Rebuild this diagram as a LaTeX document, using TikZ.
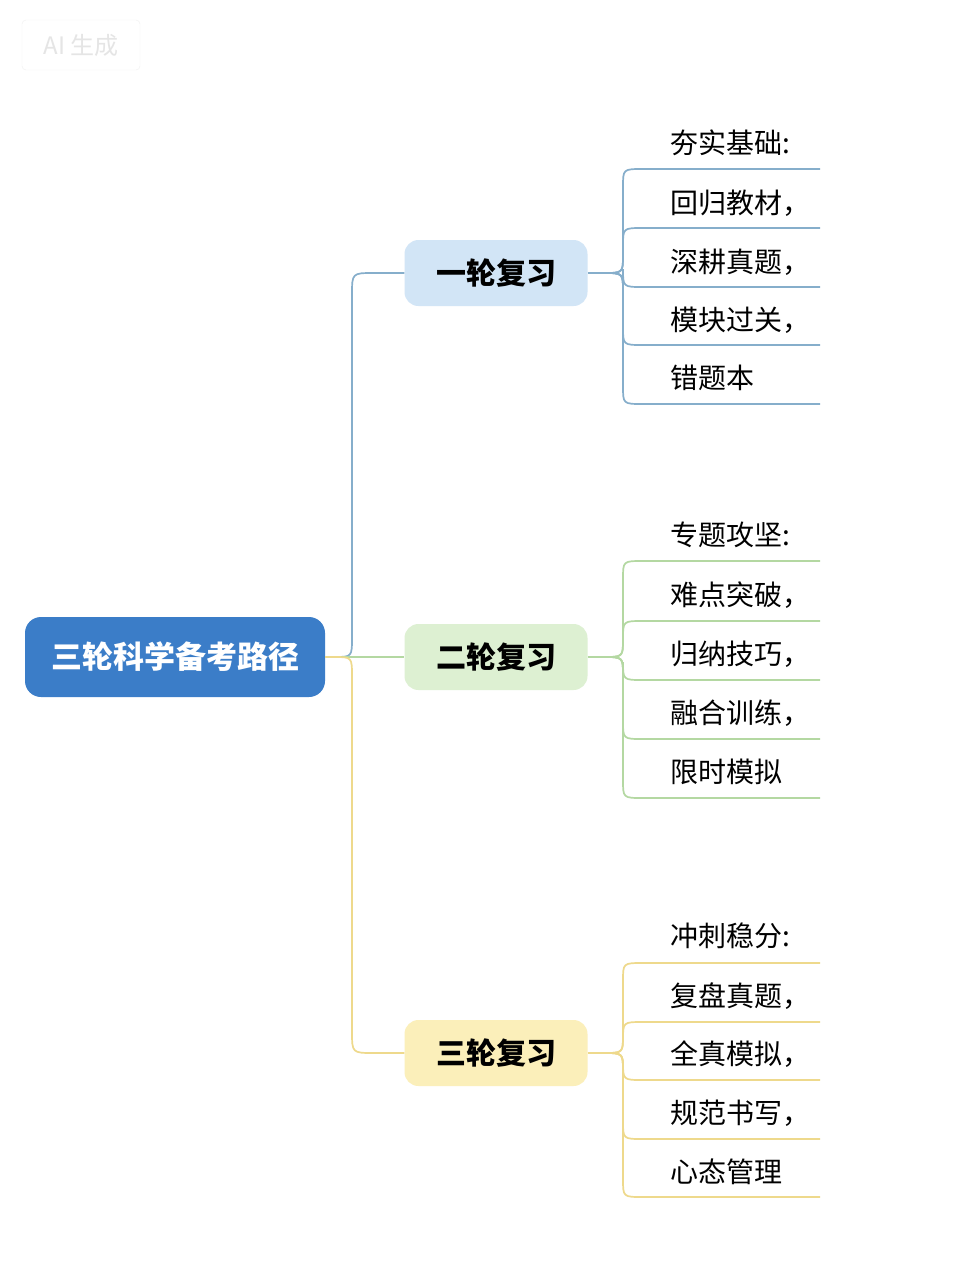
\documentclass[tikz,border=0pt]{standalone}
\usepackage{fontspec}
\setmainfont{Noto Sans CJK SC}
\definecolor{rootc}{HTML}{3B7DC8}
\definecolor{b1}{HTML}{D2E5F6}\definecolor{l1}{HTML}{86AECB}
\definecolor{b2}{HTML}{DDF0D2}\definecolor{l2}{HTML}{B4D8A2}
\definecolor{b3}{HTML}{FBEFBA}\definecolor{l3}{HTML}{EED98C}
\begin{document}
\begin{tikzpicture}[x=1pt,y=-1pt,
  lvl/.style={rounded corners=14pt,minimum width=183pt,minimum height=66pt,font=\fontsize{30}{31}\selectfont\bfseries,inner sep=0pt},
  leaf/.style={anchor=west,font=\fontsize{28}{29}\selectfont,inner sep=0pt},
  conn/.style={line width=1.7pt}]
\useasboundingbox (0,0) rectangle (961,1280);
\fill[white] (0,0) rectangle (961,1280);
\node[draw=black!6,fill=white,rounded corners=4pt,minimum width=118pt,minimum height=50pt,text=black!10,font=\fontsize{24}{24}\selectfont] (wm) at (81,45) {AI 生成};
\node[fill=rootc,text=white,rounded corners=16pt,minimum width=300pt,minimum height=80pt,font=\fontsize{31}{32}\selectfont\bfseries,inner sep=0pt] (root) at (175,657) {三轮科学备考路径};
\node[lvl,fill=b1] (r1) at (496,273) {一轮复习};
\node[lvl,fill=b2] (r2) at (496,657) {二轮复习};
\node[lvl,fill=b3] (r3) at (496,1053) {三轮复习};
\draw[conn,l1] (root.east) -- (334,657) .. controls (352,657) .. (352,637) -- (352,295) .. controls (352,273) .. (374,273) -- (r1.west);
\draw[conn,l2] (root.east) -- (r2.west);
\draw[conn,l3] (root.east) -- (334,657) .. controls (352,657) .. (352,677) -- (352,1031) .. controls (352,1053) .. (374,1053) -- (r3.west);
\newcommand\mybranch[8]{%
  \coordinate (#1h) at (603,#3);
  \draw[conn,#2] (#1.east) -- (#1h);
  \foreach \yy in {#4,#5,#6,#7,#8}{
    \pgfmathsetmacro\dir{\yy<#3 ? 1 : -1}
    \draw[conn,#2] (#1h) .. controls (623,#3) .. (623,#3-\dir*18) -- (623,\yy+\dir*18) .. controls (623,\yy) .. (643,\yy) -- (820,\yy);
  }}
\mybranch{r1}{l1}{273}{169}{228}{287}{345}{404}
\mybranch{r2}{l2}{657}{561}{621}{680}{739}{798}
\mybranch{r3}{l3}{1053}{963}{1022}{1080}{1139}{1197}
\node[leaf] (a0) at (670,143) {夯实基础:};
\node[leaf] (a1) at (670,203) {回归教材，};
\node[leaf] (a2) at (670,262) {深耕真题，};
\node[leaf] (a3) at (670,320) {模块过关，};
\node[leaf] (a4) at (670,378) {错题本};
\node[leaf] (b0) at (670,535) {专题攻坚:};
\node[leaf] (b1n) at (670,595) {难点突破，};
\node[leaf] (b2n) at (670,654) {归纳技巧，};
\node[leaf] (b3n) at (670,713) {融合训练，};
\node[leaf] (b4n) at (670,772) {限时模拟};
\node[leaf] (c0) at (670,936) {冲刺稳分:};
\node[leaf] (c1) at (670,996) {复盘真题，};
\node[leaf] (c2) at (670,1054) {全真模拟，};
\node[leaf] (c3) at (670,1113) {规范书写，};
\node[leaf] (c4) at (670,1172) {心态管理};
\end{tikzpicture}
\end{document}
